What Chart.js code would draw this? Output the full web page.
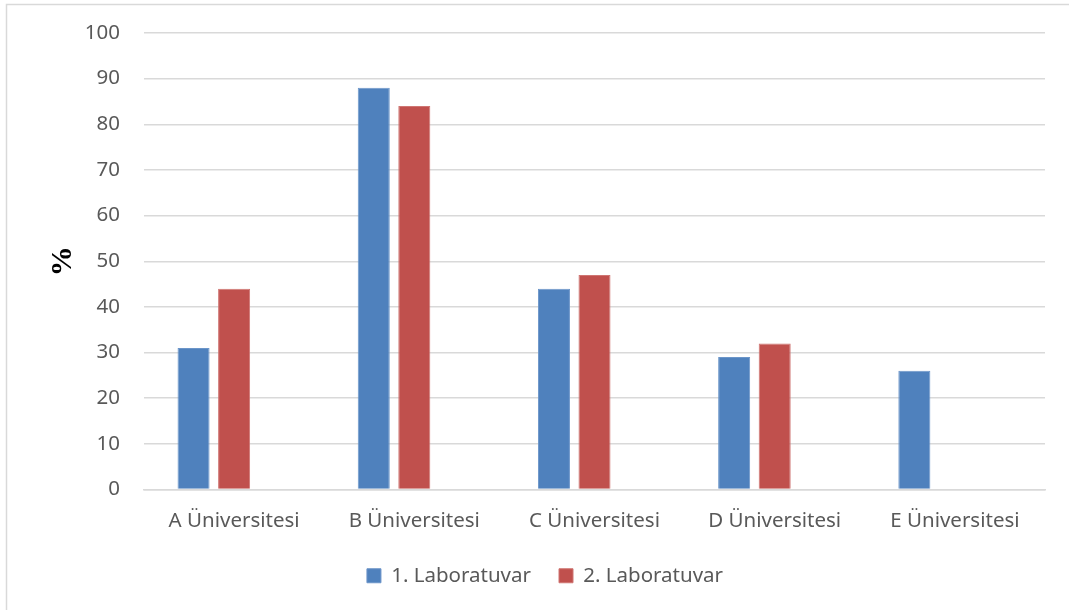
<!DOCTYPE html>
<html>
<head>
<meta charset="utf-8">
<script src="https://cdn.jsdelivr.net/npm/chart.js@4.4.1/dist/chart.umd.min.js"></script>
<style>
  html, body { margin: 0; padding: 0; background: #ffffff; }
  #wrap { width: 1069px; height: 610px; position: relative; }
</style>
</head>
<body>
<div id="wrap"><canvas id="chart" width="1069" height="610"></canvas></div>
<script>
// Universities compared
const categories = ['A Üniversitesi', 'B Üniversitesi', 'C Üniversitesi', 'D Üniversitesi', 'E Üniversitesi'];
// Percentage results per laboratory
const lab1 = [31, 88, 44, 29, 26];
const lab2 = [44, 84, 47, 32, null];
// Third slot of each group is kept empty
const lab3 = [null, null, null, null, null];
const yTicks = [0, 10, 20, 30, 40, 50, 60, 70, 80, 90, 100];

const gridColor = '#d9d9d9';
const textColor = '#595959';
const fontFamily = '"Noto Sans", "Open Sans", sans-serif';
const fontSize = 20.5;

// Light frame around the chart area (top and left edges)
const framePlugin = {
  id: 'frame',
  beforeDraw(chart) {
    const ctx = chart.ctx;
    ctx.save();
    ctx.strokeStyle = gridColor;
    ctx.lineWidth = 1.5;
    ctx.beginPath();
    ctx.moveTo(6.5, chart.height + 2);
    ctx.lineTo(6.5, 4.5);
    ctx.lineTo(chart.width + 2, 4.5);
    ctx.stroke();
    ctx.restore();
  }
};

new Chart(document.getElementById('chart'), {
  type: 'bar',
  data: {
    labels: categories,
    datasets: [
      { label: '1. Laboratuvar', data: lab1, backgroundColor: '#4f81bd', borderColor: '#6b95c9', borderWidth: 1 },
      { label: '2. Laboratuvar', data: lab2, backgroundColor: '#c0504d', borderColor: '#cf7572', borderWidth: 1 },
      { label: '', data: lab3, backgroundColor: '#9bbb59' }
    ]
  },
  options: {
    responsive: false,
    animation: false,
    devicePixelRatio: 1,
    layout: { padding: { left: 45, right: 24, top: 33, bottom: 14 } },
    datasets: { bar: { categoryPercentage: 0.675, barPercentage: 0.79 } },
    scales: {
      x: {
        grid: { display: false, drawTicks: false },
        border: { display: true, color: gridColor, width: 1.5 },
        ticks: { color: textColor, font: { family: fontFamily, size: fontSize }, padding: 19, maxRotation: 0 },
        afterFit(scale) { scale.height = 48; }
      },
      y: {
        min: 0, max: 100,
        afterBuildTicks(scale) { scale.ticks = yTicks.map(v => ({ value: v })); },
        grid: { color: gridColor, lineWidth: 1.5, drawTicks: true, tickLength: 21, tickColor: 'rgba(0,0,0,0)' },
        border: { display: false },
        ticks: { color: textColor, font: { family: fontFamily, size: fontSize }, padding: 3 },
        title: {
          display: true, text: '%', color: '#000000',
          font: { family: '"Liberation Serif", "DejaVu Serif", serif', size: 30, weight: 'bold' },
          padding: { top: 0, bottom: 0 }
        },
        afterFit(scale) { scale.width = 99; }
      }
    },
    plugins: {
      legend: {
        position: 'bottom',
        labels: {
          color: textColor,
          font: { family: fontFamily, size: fontSize },
          boxWidth: 14, boxHeight: 14, padding: 28,
          filter: item => item.text !== ''
        }
      },
      tooltip: { enabled: false }
    }
  },
  plugins: [framePlugin]
});
</script>
</body>
</html>
